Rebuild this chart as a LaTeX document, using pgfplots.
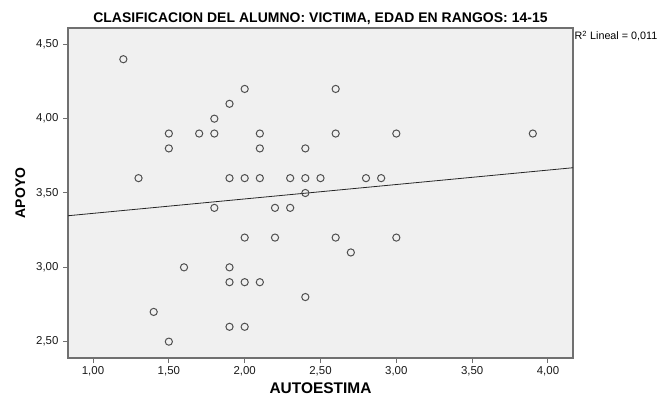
\documentclass[border=0pt]{standalone}
\usepackage{fontspec}
\setmainfont{Liberation Sans}
\usepackage{pgfplots}
\pgfplotsset{compat=1.18}
\definecolor{bgc}{HTML}{F0F0F0}
\definecolor{axc}{HTML}{707070}
\definecolor{mkc}{HTML}{505050}
\begin{document}
\begin{tikzpicture}
\path[use as bounding box] (0,0) rectangle (661bp,396bp);
\begin{axis}[
  name=ax,
  at={(68bp,38bp)}, anchor=south west,
  scale only axis, width=505bp, height=330bp,
  xmin=0.835, xmax=4.165, ymin=2.39, ymax=4.61,
  axis background/.style={fill=bgc},
  axis line style={draw=axc, line width=1.3bp},
  xtick={1,1.5,2,2.5,3,3.5,4},
  ytick={2.5,3,3.5,4,4.5},
  tick align=outside, tick pos=left,
  major tick length=5bp,
  every tick/.style={draw=axc, line width=1bp},
  /pgf/number format/.cd, use comma, fixed, fixed zerofill, precision=2, assume math mode=true,
  /pgfplots/.cd,
  ticklabel style={font=\fontsize{11.5}{13}\selectfont, text=black!90},
  xticklabel style={anchor=base, yshift=-11bp},
  yticklabel style={anchor=east, xshift=-1bp},
  xlabel={AUTOESTIMA},
  xlabel style={at={(axis description cs:0.5,0)}, anchor=base, yshift=-35bp, font=\bfseries\fontsize{15.5}{17}\selectfont},
  clip=true,
]
\addplot[only marks, mark=o, mark size=3.6bp, mark options={draw=mkc, line width=1bp}] coordinates {
(1.2,4.4) (1.3,3.6) (1.5,3.9) (1.5,3.8) (1.7,3.9) (1.8,3.9) (1.8,4.0)
(1.9,4.1) (2.0,4.2) (2.1,3.9) (2.1,3.8) (1.9,3.6) (2.0,3.6) (2.1,3.6)
(2.3,3.6) (2.4,3.6) (2.5,3.6) (2.4,3.8) (2.4,3.5) (2.6,4.2) (2.6,3.9)
(3.0,3.9) (3.9,3.9) (2.8,3.6) (2.9,3.6) (1.8,3.4) (2.2,3.4) (2.3,3.4)
(2.0,3.2) (2.2,3.2) (2.6,3.2) (3.0,3.2) (2.7,3.1) (1.6,3.0) (1.9,3.0)
(1.9,2.9) (2.0,2.9) (2.1,2.9) (2.4,2.8) (1.4,2.7) (1.9,2.6) (2.0,2.6)
(1.5,2.5)
};
\addplot[black!85, line width=0.8bp] coordinates {(0.835,3.347) (4.165,3.670)};
\end{axis}
\node[anchor=base, inner sep=0pt, font=\bfseries\fontsize{14}{16}\selectfont\addfontfeatures{LetterSpace=0.4}] at ([yshift=5.5bp]ax.north) {CLASIFICACION DEL ALUMNO: VICTIMA, EDAD EN RANGOS: 14-15};
\node[rotate=90, anchor=base, inner sep=0pt, font=\bfseries\fontsize{14}{16}\selectfont] at ([xshift=-43bp]ax.west) {APOYO};
\node[anchor=base west, inner sep=0pt, font=\fontsize{10.8}{12}\selectfont] at ([yshift=-12bp, xshift=1.5bp]ax.north east) {R\textsuperscript{2} Lineal = 0,011};
\end{tikzpicture}
\end{document}
